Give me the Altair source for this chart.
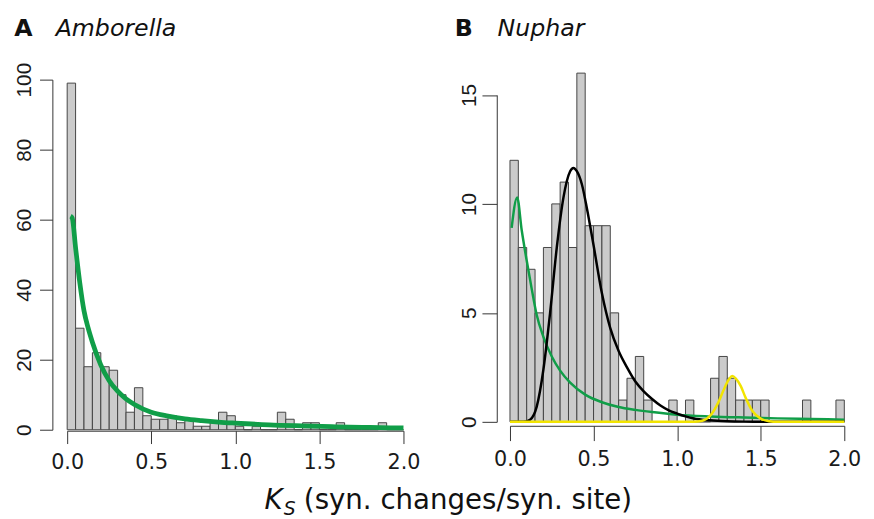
import altair as alt
import pandas as pd

FONT = "DejaVu Sans"
YFONT = "Liberation Sans"

# histogram bins (Ks, width 0.05)
bin_lo = [0.00, 0.05, 0.10, 0.15, 0.20, 0.25, 0.30, 0.35, 0.40, 0.45,
          0.50, 0.55, 0.60, 0.65, 0.70, 0.75, 0.80, 0.85, 0.90, 0.95,
          1.00, 1.05, 1.10, 1.15, 1.20, 1.25, 1.30, 1.35, 1.40, 1.45,
          1.50, 1.55, 1.60, 1.65, 1.70, 1.75, 1.80, 1.85, 1.90, 1.95]
bin_hi = [0.05, 0.10, 0.15, 0.20, 0.25, 0.30, 0.35, 0.40, 0.45, 0.50,
          0.55, 0.60, 0.65, 0.70, 0.75, 0.80, 0.85, 0.90, 0.95, 1.00,
          1.05, 1.10, 1.15, 1.20, 1.25, 1.30, 1.35, 1.40, 1.45, 1.50,
          1.55, 1.60, 1.65, 1.70, 1.75, 1.80, 1.85, 1.90, 1.95, 2.00]

amb_counts = [99, 29, 18, 22, 18, 17, 10, 5, 12, 4,
              3, 3, 4, 2, 3, 1, 1, 2, 5, 4,
              1, 0, 1, 0, 0, 5, 3, 0, 2, 2,
              0, 0, 2, 0, 0, 0, 0, 2, 0, 0]
nup_counts = [12, 8, 7, 5, 8, 10, 11, 8, 16, 9,
              9, 9, 5, 1, 2, 3, 1, 0, 0, 1,
              0, 1, 0, 0, 2, 3, 2, 1, 1, 1,
              1, 0, 0, 0, 0, 1, 0, 0, 0, 1]

# fitted curves
amb_green_ks = [0.02, 0.03, 0.05, 0.075, 0.10, 0.125, 0.15, 0.20, 0.25, 0.30, 0.35,
                0.40, 0.50, 0.60, 0.70, 0.80, 0.90, 1.00, 1.20, 1.40, 1.60, 1.80, 2.00]
amb_green_y = [61, 60.5, 52, 42, 34, 29, 25, 18.5, 14, 11, 8.8,
               7.2, 5.0, 3.9, 3.1, 2.6, 2.2, 1.9, 1.4, 1.1, 0.85, 0.65, 0.5]

nup_green_ks = [0.01, 0.043, 0.07, 0.10, 0.13, 0.16, 0.20, 0.25, 0.30, 0.36, 0.45,
                0.55, 0.65, 0.75, 0.85, 1.0, 1.2, 1.4, 1.6, 1.8, 2.0]
nup_green_y = [8.9, 10.3, 8.8, 7.4, 6.1, 4.9, 3.9, 3.0, 2.35, 1.8, 1.25,
               0.9, 0.68, 0.55, 0.45, 0.33, 0.25, 0.2, 0.16, 0.13, 0.1]

nup_black_ks = [0.0, 0.08, 0.12, 0.16, 0.20, 0.24, 0.28, 0.32, 0.36, 0.38, 0.40, 0.43,
                0.46, 0.50, 0.55, 0.60, 0.65, 0.70, 0.75, 0.80, 0.85, 0.90, 0.95,
                1.00, 1.05, 1.10, 1.20, 1.30, 1.40, 1.50, 2.0]
nup_black_y = [0.0, 0.0, 0.1, 0.7, 2.4, 5.0, 8.0, 10.3, 11.5, 11.65, 11.5, 10.9,
               9.8, 8.1, 5.9, 4.3, 3.25, 2.5, 1.85, 1.4, 1.05, 0.75, 0.53,
               0.38, 0.25, 0.15, 0.07, 0.03, 0.01, 0.0, 0.0]

nup_yellow_ks = [0.0, 1.10, 1.15, 1.20, 1.25, 1.28, 1.31, 1.33, 1.35, 1.38, 1.41,
                 1.45, 1.50, 1.55, 1.60, 2.0]
nup_yellow_y = [0, 0, 0.05, 0.3, 0.95, 1.5, 1.95, 2.1, 2.0, 1.65, 1.1,
                0.5, 0.15, 0.03, 0, 0]

x_ticks = [0, 0.5, 1.0, 1.5, 2.0]
amb_y_ticks = [0, 20, 40, 60, 80, 100]
nup_y_ticks = [0, 5, 10, 15]

AX = "#333333"
GREEN = "#109e48"
YELLOW = "#f2e400"
TXT = "#111111"

one = alt.Data(values=[{"k": 0}])


def x_axis(offset, tick):
    return alt.Axis(values=x_ticks, format=".1f", title=None, grid=False,
                    domainColor=AX, tickColor=AX, tickSize=tick, labelFont=FONT,
                    labelFontSize=21, labelColor="#1a1a1a", labelPadding=8,
                    labelFlush=False, offset=offset)


def y_axis(vals, offset, tick, pad):
    return alt.Axis(values=vals, title=None, grid=False, domainColor=AX,
                    tickColor=AX, tickSize=tick, labelFont=YFONT, labelFontSize=21,
                    labelColor="#1a1a1a", labelAngle=270, labelAlign="center",
                    labelBaseline="alphabetic", labelPadding=pad, offset=offset,
                    labelOverlap=False)


def text_at(txt, dx, dy, size, style="normal", weight="normal"):
    return alt.Chart(one).mark_text(text=txt, font=FONT, fontSize=size,
                                    fontStyle=style, fontWeight=weight,
                                    align="left", baseline="alphabetic",
                                    color=TXT).encode(
        x=alt.value(dx), y=alt.value(dy))


def panel(counts, curves, ydom, yvals, w, h, yrange, xoff, yoff, tick, pad,
          letter, name, title_dx, name_dx, extra=()):
    xs = alt.Scale(domain=[0, 2], nice=False, zero=False)
    ys = alt.Scale(domain=ydom, nice=False, range=yrange)
    xa = x_axis(xoff, tick)
    ya = y_axis(yvals, yoff, tick, pad)
    df = pd.DataFrame({"lo": bin_lo, "hi": bin_hi, "n": counts,
                       "base": [0] * len(counts)})
    bars = alt.Chart(df).mark_rect(fill="#cbcbcb", stroke="#444444",
                                   strokeWidth=1).encode(
        x=alt.X("lo:Q", scale=xs, axis=xa),
        x2="hi:Q",
        y=alt.Y("n:Q", scale=ys, axis=ya),
        y2="base:Q",
    )
    layers = [bars]
    for ks, yv, col, sw in curves:
        cdf = pd.DataFrame({"lo": ks, "n": yv})
        layers.append(alt.Chart(cdf).mark_line(color=col, strokeWidth=sw,
                                               interpolate="monotone").encode(
            x=alt.X("lo:Q", scale=xs, axis=xa),
            y=alt.Y("n:Q", scale=ys, axis=ya),
        ))
    layers.append(text_at(letter, title_dx, -44.5, 24, weight="bold"))
    layers.append(text_at(name, name_dx, -44.5, 24, style="italic"))
    layers += list(extra)
    return alt.layer(*layers).properties(width=w, height=h)


xlabel = [
    text_at("K", 200, 435.5, 28, style="italic"),
    text_at("S", 219.5, 441.5, 19, style="italic"),
    text_at("(syn. changes/syn. site)", 240, 435.5, 28),
]

pa = panel(amb_counts, [(amb_green_ks, amb_green_y, GREEN, 4.8)],
           [0, 100], amb_y_ticks, 341, 355, [355, 0], 1, 15, 13, 9,
           "A", "Amborella", -53.7, -11.7, extra=xlabel)
pb = panel(nup_counts, [(nup_green_ks, nup_green_y, GREEN, 2.5),
                        (nup_black_ks, nup_black_y, "#000000", 2.5),
                        (nup_yellow_ks, nup_yellow_y, YELLOW, 2.5)],
           [0, 15], nup_y_ticks, 339, 347, [347, 15.5], 4, 13.4, 15, 7,
           "B", "Nuphar", -56, -12.7)

chart = alt.hconcat(pa, pb, spacing=108, bounds="flush").properties(
    padding={"left": 6, "top": 5, "right": 5, "bottom": 5}
).configure_view(strokeWidth=0)
chart.save("out.html", embed_options={"renderer": "svg", "actions": False})
